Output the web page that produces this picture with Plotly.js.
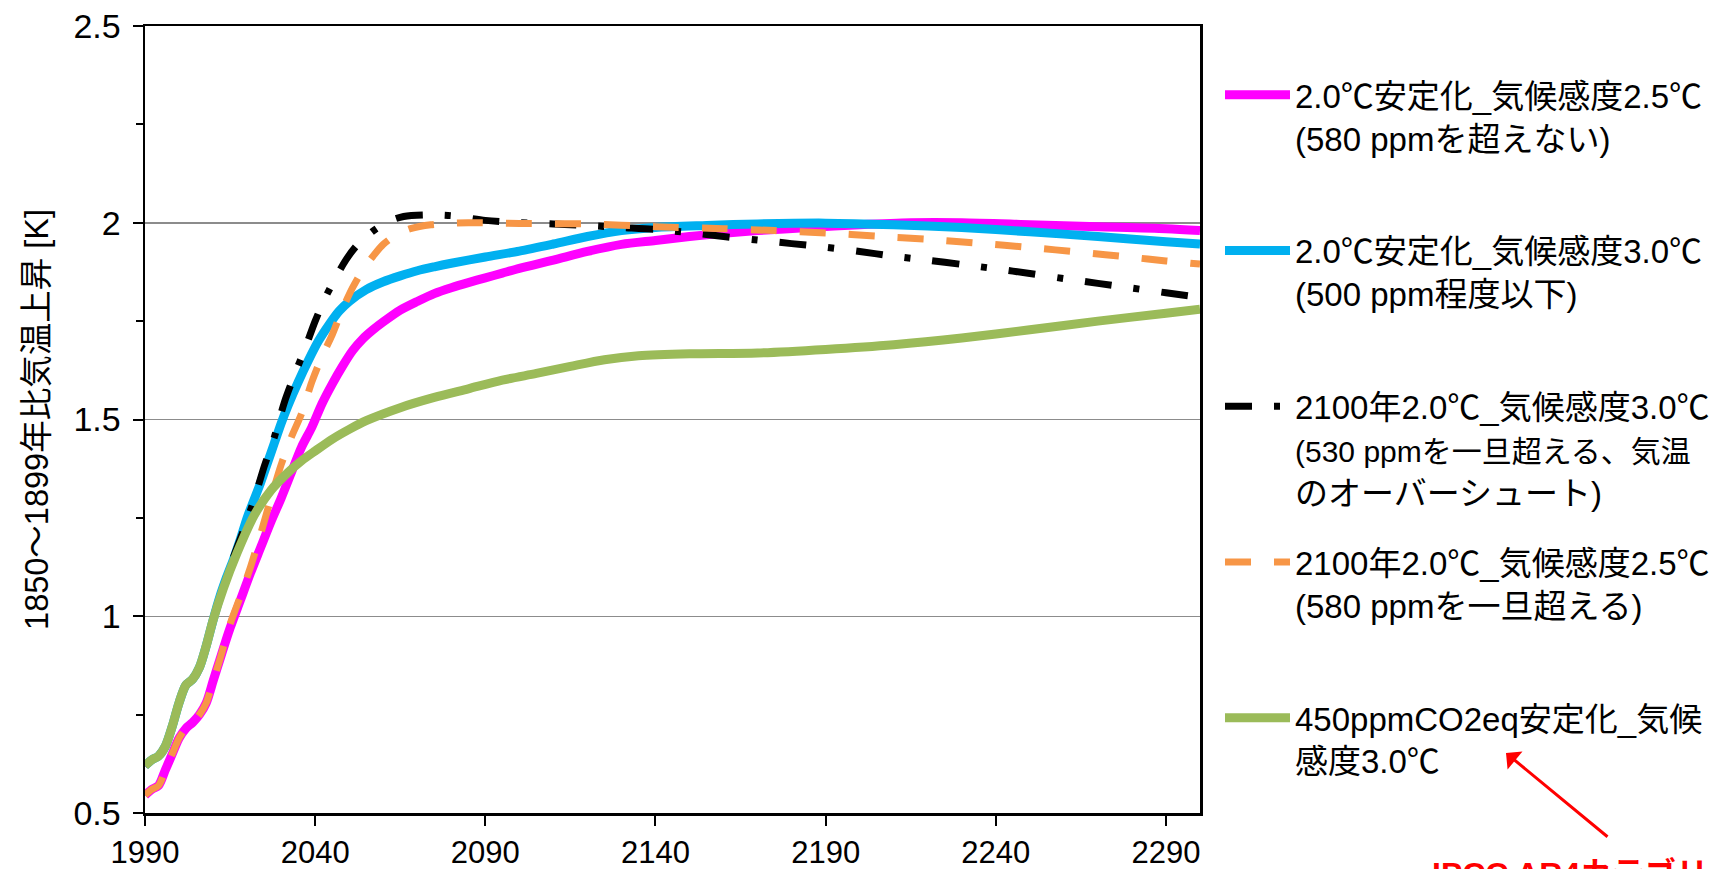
<!DOCTYPE html>
<html>
<head>
<meta charset="utf-8">
<script src="https://cdn.plot.ly/plotly-3.0.1.min.js"></script>
<style>html,body{margin:0;padding:0;background:#fff;}#chart{width:1711px;height:869px;}</style>
</head>
<body>
<div id="chart"></div>
<script>
// ---- data ----
const seriesNames = [
  "2.0℃安定化_気候感度2.5℃<br>(580 ppmを超えない)<br> ",
  "2.0℃安定化_気候感度3.0℃<br>(500 ppm程度以下)<br> ",
  "2100年2.0℃_気候感度3.0℃<br><span style=\"font-size:30px\">(530 ppmを一旦超える、気温</span><br>のオーバーシュート)",
  "2100年2.0℃_気候感度2.5℃<br>(580 ppmを一旦超える)<br> ",
  "450ppmCO2eq安定化_気候<br>感度3.0℃<br> "
];

const pinkYears = [1990,1992,1994,1996,1998,2000,2002,2004,2006,2008,2010,2012,2015,2018,2021,2024,2027,2030,2033,2036,2039,2042,2045,2048,2051,2054,2057,2060,2065,2070,2075,2080,2085,2090,2095,2100,2110,2120,2130,2140,2150,2160,2170,2185,2200,2215,2230,2250,2270,2290,2300];
const pinkVals  = [0.545,0.56,0.57,0.61,0.65,0.69,0.715,0.73,0.75,0.78,0.835,0.89,0.97,1.04,1.11,1.175,1.24,1.30,1.365,1.43,1.48,1.54,1.59,1.635,1.675,1.705,1.728,1.748,1.778,1.80,1.82,1.835,1.848,1.86,1.872,1.884,1.905,1.927,1.945,1.955,1.965,1.973,1.98,1.988,1.995,2.0,2.0,1.995,1.99,1.985,1.98];

const blueYears = [1990,1992,1994,1996,1998,2000,2002,2004,2006,2008,2010,2012,2014,2016,2018,2020,2022,2024,2026,2028,2030,2032,2035,2038,2041,2044,2047,2050,2055,2060,2065,2070,2075,2080,2090,2100,2110,2120,2130,2140,2155,2170,2190,2210,2230,2250,2270,2290,2300];
const blueVals  = [0.62,0.635,0.645,0.67,0.72,0.78,0.825,0.84,0.87,0.925,0.99,1.05,1.10,1.145,1.195,1.25,1.295,1.34,1.39,1.44,1.49,1.535,1.595,1.65,1.70,1.74,1.775,1.80,1.83,1.85,1.865,1.878,1.888,1.897,1.913,1.928,1.946,1.965,1.98,1.988,1.993,1.997,1.999,1.995,1.988,1.977,1.965,1.952,1.946];

const blackYears = [1990,1992,1994,1996,1998,2000,2002,2004,2006,2008,2010,2013,2016,2019,2022,2025,2028,2031,2034,2037,2040,2043,2046,2049,2052,2055,2058,2062,2066,2072,2080,2090,2100,2110,2120,2130,2140,2150,2160,2170,2180,2190,2200,2210,2220,2230,2240,2250,2260,2270,2280,2290,2300];
const blackVals  = [0.62,0.635,0.645,0.67,0.72,0.78,0.825,0.84,0.87,0.925,0.99,1.07,1.15,1.22,1.295,1.38,1.455,1.545,1.615,1.68,1.75,1.81,1.86,1.905,1.94,1.965,1.985,2.005,2.016,2.02,2.018,2.006,2.0,1.997,1.993,1.988,1.983,1.975,1.965,1.956,1.947,1.938,1.927,1.915,1.905,1.894,1.883,1.871,1.858,1.846,1.834,1.822,1.81];

const orangeYears = [1990,1992,1994,1996,1998,2000,2002,2004,2006,2008,2010,2012,2015,2018,2021,2024,2027,2030,2033,2036,2039,2042,2045,2048,2051,2054,2057,2060,2064,2068,2074,2085,2100,2120,2140,2160,2175,2190,2205,2220,2235,2250,2265,2280,2290,2300];
const orangeVals  = [0.545,0.56,0.57,0.61,0.65,0.69,0.715,0.73,0.75,0.78,0.835,0.89,0.98,1.05,1.125,1.21,1.30,1.385,1.455,1.515,1.595,1.66,1.715,1.78,1.835,1.88,1.915,1.945,1.97,1.985,1.995,2.0,1.998,1.997,1.99,1.985,1.98,1.974,1.966,1.958,1.948,1.937,1.925,1.912,1.903,1.895];

const greenYears = [1990,1992,1994,1996,1998,2000,2002,2004,2006,2008,2010,2013,2017,2022,2027,2032,2036,2040,2045,2050,2055,2065,2075,2085,2095,2105,2115,2125,2135,2150,2170,2190,2210,2230,2250,2270,2290,2300];
const greenVals  = [0.62,0.635,0.645,0.67,0.72,0.78,0.825,0.84,0.87,0.925,0.99,1.07,1.16,1.255,1.32,1.365,1.395,1.42,1.45,1.475,1.497,1.53,1.556,1.578,1.60,1.617,1.635,1.652,1.662,1.667,1.669,1.678,1.69,1.707,1.728,1.75,1.77,1.78];

const xTickVals = [1990,2040,2090,2140,2190,2240,2290];
const yTickVals = [0.5,1,1.5,2,2.5];
const yTitle = "1850～1899年比気温上昇 [K]";
const noteText = "IPCC AR4カテゴリーI";

// ---- chart ----
const FONT = "'Liberation Sans', Arial, 'Noto Sans CJK JP', sans-serif";
const W = 1711, H = 869;
const M = {l:145, r:511, t:26, b:56, autoexpand:false};
const PW = W - M.l - M.r, PH = H - M.t - M.b;
const px = x => (x - M.l) / PW;
const py = y => (H - M.b - y) / PH;

const traces = [
  {x: pinkYears, y: pinkVals, name: seriesNames[0], legendgroup:'a',
   line:{color:'#FF00FF', width:9, shape:'spline', smoothing:0.8}},
  {x: blueYears, y: blueVals, name: seriesNames[1], legendgroup:'b',
   line:{color:'#00B0F0', width:9, shape:'spline', smoothing:0.8}},
  {x: blackYears, y: blackVals, name: seriesNames[2], legendgroup:'c',
   line:{color:'#000000', width:7, dash:'27px,22px,6px,22px', shape:'spline', smoothing:0.8}},
  {x: orangeYears, y: orangeVals, name: seriesNames[3], legendgroup:'d',
   line:{color:'#F79646', width:7, dash:'26px,23px', shape:'spline', smoothing:0.8}},
  {x: greenYears, y: greenVals, name: seriesNames[4], legendgroup:'e',
   line:{color:'#9BBB59', width:9, shape:'spline', smoothing:0.8}}
].map(t => Object.assign({type:'scatter', mode:'lines', hoverinfo:'skip'}, t));

const layout = {
  width: W, height: H,
  margin: M,
  paper_bgcolor:'#fff', plot_bgcolor:'#fff',
  font: {family: FONT, size: 33, color:'#000'},
  showlegend: true,
  legend: {
    x: px(1220), xanchor:'left', y: 0.948, yanchor:'top',
    font:{family: FONT, size: 33, color:'#000'},
    valign:'top', itemwidth: 65, tracegroupgap: 24,
    bgcolor:'rgba(0,0,0,0)', borderwidth:0, itemclick:false
  },
  xaxis: {
    range:[1990, 2300], tickmode:'array', tickvals: xTickVals,
    ticks:'outside', ticklen:10, tickwidth:2, tickcolor:'#000',
    showline:true, linecolor:'#000', linewidth:2.5, mirror:true,
    showgrid:false, zeroline:false, automargin:false,
    tickfont:{family: FONT, size: 31, color:'#000'}
  },
  yaxis: {
    range:[0.5, 2.5], tickmode:'array', tickvals: yTickVals,
    ticks:'outside', ticklen:10, tickwidth:2, tickcolor:'#000',
    minor:{dtick:0.25, tick0:0.5, ticks:'outside', ticklen:7, tickwidth:2, tickcolor:'#000', showgrid:false},
    showline:true, linecolor:'#000', linewidth:2.5, mirror:true,
    showgrid:true, gridcolor:'#8c8c8c', gridwidth:1.5, zeroline:false,
    ticklabelstandoff: 5, automargin:false,
    tickfont:{family: FONT, size: 34, color:'#000'},
    title:{text: yTitle, font:{family: FONT, size: 32.5, color:'#000'}, standoff: 15}
  },
  annotations: [
    {xref:'paper', yref:'paper', x: px(1430), y: py(854), xanchor:'left', yanchor:'top',
     text:'<b>' + noteText + '</b>', showarrow:false,
     font:{family: FONT, size: 32, color:'#FF0000'}},
    {xref:'paper', yref:'paper', x: px(1506), y: py(753), text:'', showarrow:true,
     ax: 103, ay: 85, arrowcolor:'#FF0000', arrowwidth:3, arrowhead:1, arrowsize:1.3}
  ]
};

Plotly.newPlot('chart', traces, layout, {displayModeBar:false, staticPlot:true});
</script>
</body>
</html>
